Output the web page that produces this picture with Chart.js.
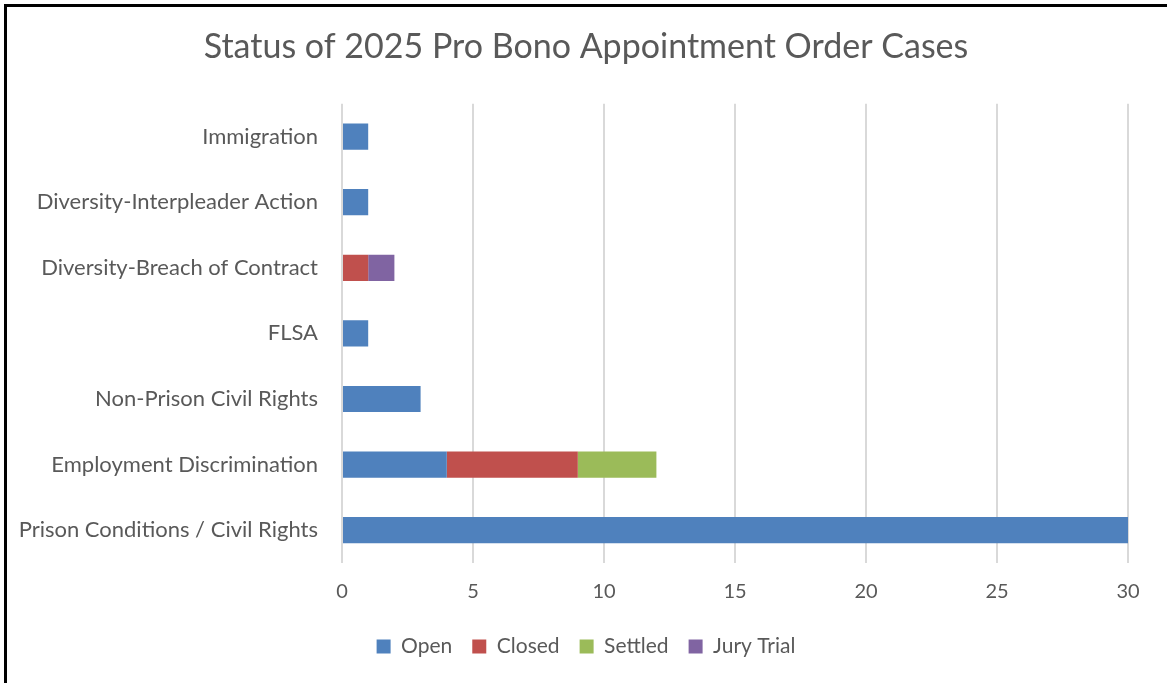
<!DOCTYPE html>
<html>
<head>
<meta charset="utf-8">
<script src="https://cdn.jsdelivr.net/npm/chart.js@4"></script>
<style>
  html, body { margin: 0; padding: 0; background: #fff; }
  #wrap { position: absolute; left: 0; top: 0; width: 1167px; height: 683px; }
  #frame { position: absolute; left: 4px; top: 4px; right: 0; bottom: 0;
           border-left: 3px solid #000; border-top: 3px solid #000; pointer-events: none; }
</style>
</head>
<body>
<div id="wrap">
  <canvas id="myChart" width="1167" height="683"></canvas>
  <div id="frame"></div>
</div>
<script>
const categories = ['Immigration', 'Diversity-Interpleader Action', 'Diversity-Breach of Contract',
  'FLSA', 'Non-Prison Civil Rights', 'Employment Discrimination', 'Prison Conditions / Civil Rights'];
const openCases = [1, 1, 0, 1, 3, 4, 30];
const closedCases = [0, 0, 1, 0, 0, 5, 0];
const settledCases = [0, 0, 0, 0, 0, 3, 0];
const juryTrialCases = [0, 0, 1, 0, 0, 0, 0];
const xTicks = [0, 5, 10, 15, 20, 25, 30];

const grey = '#595959';
const ctx = document.getElementById('myChart');

// title and legend are centred on the whole frame, not on the plot
const centreBlocks = {
  id: 'centreBlocks',
  afterLayout(chart) {
    [chart.titleBlock, chart.legend].forEach(b => {
      if (!b) return;
      b.left = 0;
      b.right = 1172;
      b.width = 1172;
    });
    chart.legend.top -= 5;
    chart.legend.bottom -= 5;
  }
};

new Chart(ctx, {
  type: 'bar',
  data: {
    labels: categories,
    datasets: [
      { label: 'Open', data: openCases, backgroundColor: '#4F81BD' },
      { label: 'Closed', data: closedCases, backgroundColor: '#C0504D' },
      { label: 'Settled', data: settledCases, backgroundColor: '#9BBB59' },
      { label: 'Jury Trial', data: juryTrialCases, backgroundColor: '#8064A2' }
    ]
  },
  options: {
    indexAxis: 'y',
    responsive: false,
    animation: false,
    layout: { padding: { left: 0, right: 39, top: 0, bottom: 11 } },
    datasets: { bar: { categoryPercentage: 1, barPercentage: 0.4 } },
    plugins: {
      title: {
        display: true,
        text: 'Status of 2025 Pro Bono Appointment Order Cases',
        color: grey,
        font: { family: 'Lato', size: 34, weight: 'normal' },
        padding: { top: 27, bottom: 36 }
      },
      legend: {
        position: 'bottom',
        labels: {
          color: grey,
          font: { family: 'Lato', size: 21 },
          boxWidth: 14,
          boxHeight: 14,
          padding: 20
        }
      },
      tooltip: { enabled: false }
    },
    scales: {
      x: {
        stacked: true,
        min: 0,
        max: 30,
        afterBuildTicks: scale => { scale.ticks = xTicks.map(v => ({ value: v })); },
        grid: { color: '#D9D9D9', lineWidth: 2, drawTicks: false },
        border: { display: false },
        ticks: { color: grey, font: { family: 'Lato', size: 20 }, padding: 17 }
      },
      y: {
        stacked: true,
        afterFit: scale => { scale.width = 342; },
        grid: { display: false },
        border: { display: false },
        ticks: { color: grey, font: { family: 'Lato', size: 22 }, padding: 16 }
      }
    }
  },
  plugins: [centreBlocks]
});
</script>
</body>
</html>
